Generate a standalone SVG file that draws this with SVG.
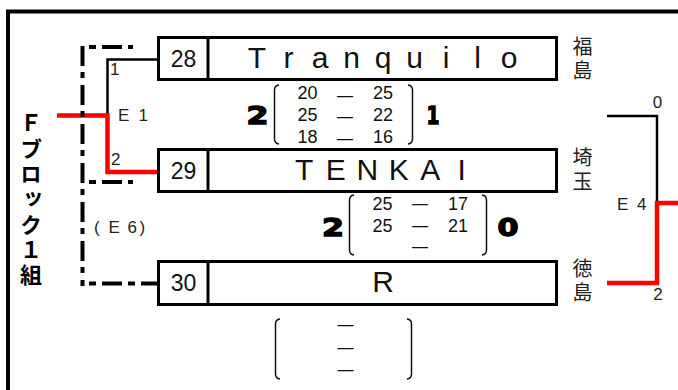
<svg xmlns="http://www.w3.org/2000/svg" width="678" height="390" viewBox="0 0 678 390">
<style>
.bg{fill:#fff}
.frame{fill:none;stroke:#000;stroke-width:4}
.box{fill:#fff;stroke:#000;stroke-width:3}
.div{stroke:#000;stroke-width:3}
.t{font-family:"Liberation Sans",Arial,sans-serif;fill:#111}
.num{font-size:23px;text-anchor:middle}
.name{font-size:30px;text-anchor:middle}
.pref{font-family:"Noto Sans CJK JP",sans-serif;font-size:20px;fill:#222;writing-mode:vertical-rl;letter-spacing:4px}
.score{font-size:18px;text-anchor:middle}
.dash{font-size:16px;text-anchor:middle}
.big{font-family:"DejaVu Sans",sans-serif;font-weight:bold;font-size:25px;stroke:#000;stroke-width:1.4;fill:#000;text-anchor:middle}
.lbl{font-size:17px;fill:#222}
.br{fill:none;stroke:#111;stroke-width:1.5}
.title{font-family:"Noto Sans CJK JP",sans-serif;font-weight:bold;font-size:22px;fill:#000;writing-mode:vertical-rl;letter-spacing:3.3px}
.blk{fill:none;stroke:#000;stroke-width:2.5}
.red{fill:none;stroke:#f00;stroke-width:4.5}
.dd{fill:none;stroke:#000;stroke-width:4}
</style>
<rect class="bg" x="0" y="0" width="678" height="390"/>
<rect class="frame" x="8" y="11.5" width="720" height="420"/>

<g id="connectors">
  <path class="blk" d="M157 59.5 H107.5 V115"/>
  <path class="red" d="M57 115.5 H107.5 V172 H157"/>
  <path class="dd" d="M82.5 46 V286" stroke-dasharray="20 6 6 7"/>
  <path class="dd" d="M89 47 H133" stroke-dasharray="7 6 20 6"/>
  <path class="dd" d="M89 182 H133" stroke-dasharray="7 6 20 6"/>
  <path class="dd" d="M89 283.5 H157" stroke-dasharray="7 6 20 6"/>
  <path class="blk" stroke-width="3" d="M607 116 H657 V203"/>
  <path class="red" d="M607 283 H657 V203 H678"/>
  <text class="t lbl" x="110" y="75">1</text>
  <text class="t lbl" x="111" y="165">2</text>
  <text class="t lbl" x="118 130 138.5" y="121">E 1</text>
  <text class="t lbl" x="94 108.5 122 127.5 139.5" y="233">(E 6)</text>
  <text class="t lbl" x="617 630 637" y="210">E 4</text>
  <text class="t lbl" x="657.5" y="108" font-size="15" text-anchor="middle">0</text>
  <text class="t lbl" x="658" y="300" text-anchor="middle">2</text>
</g>

<g id="title">
  <text class="title" x="31" y="112">Ｆブロック１組</text>
</g>

<g id="team28">
  <rect class="box" x="158.5" y="37.5" width="398" height="42"/>
  <line class="div" x1="208" y1="37.5" x2="208" y2="79.5"/>
  <text class="t num" x="183.5" y="67">28</text>
  <text class="t name" x="257 288.5 320 351.5 383 414.5 446 477.5 509" y="68">Tranquilo</text>
  <text class="pref" x="582.5" y="36.5">福島</text>
</g>

<g id="team29">
  <rect class="box" x="158.5" y="149.5" width="398" height="42"/>
  <line class="div" x1="208" y1="149.5" x2="208" y2="191.5"/>
  <text class="t num" x="183.5" y="179">29</text>
  <text class="t name" x="304.25 335.75 367.25 398.75 430.25 461.75" y="180">TENKAI</text>
  <text class="pref" x="582.5" y="147">埼玉</text>
</g>

<g id="team30">
  <rect class="box" x="158.5" y="261.5" width="398" height="43"/>
  <line class="div" x1="208" y1="261.5" x2="208" y2="304.5"/>
  <text class="t num" x="183.5" y="291">30</text>
  <text class="t name" x="383" y="292">R</text>
  <text class="pref" x="582.5" y="258">徳島</text>
</g>

<g id="match1">
  <text class="big" x="257.5" y="123.5" textLength="22" lengthAdjust="spacingAndGlyphs">2</text>
  <path class="br" d="M279 85 Q274.5 85.5 274.5 90 V139 Q274.5 143.5 279 144"/>
  <path class="br" d="M408 85 Q412.5 85.5 412.5 90 V139 Q412.5 143.5 408 144"/>
  <text class="t score" x="307.5" y="98.5">20</text>
  <text class="t score" x="383" y="98.5">25</text>
  <text class="t score" x="307.5" y="120.5">25</text>
  <text class="t score" x="383" y="120.5">22</text>
  <text class="t score" x="307.5" y="143">18</text>
  <text class="t score" x="383" y="143">16</text>
  <text class="t dash" x="345" y="100.8">—</text>
  <text class="t dash" x="345" y="121.8">—</text>
  <text class="t dash" x="345" y="143.8">—</text>
  <text class="big" x="433" y="123.5" textLength="13" lengthAdjust="spacingAndGlyphs">1</text>
</g>

<g id="match2">
  <text class="big" x="333" y="235.5" textLength="22" lengthAdjust="spacingAndGlyphs">2</text>
  <path class="br" d="M354 195 Q349.5 195.5 349.5 200 V250 Q349.5 254.5 354 255"/>
  <path class="br" d="M482 195 Q486.5 195.5 486.5 200 V250 Q486.5 254.5 482 255"/>
  <text class="t score" x="382.5" y="210">25</text>
  <text class="t score" x="458" y="210">17</text>
  <text class="t score" x="382.5" y="231.5">25</text>
  <text class="t score" x="458" y="231.5">21</text>
  <text class="t dash" x="420" y="209.3">—</text>
  <text class="t dash" x="420" y="231">—</text>
  <text class="t dash" x="420" y="252.3">—</text>
  <text class="big" x="508" y="235.5" textLength="21" lengthAdjust="spacingAndGlyphs">0</text>
</g>

<g id="match3">
  <path class="br" d="M280 319 Q275.5 319.5 275.5 324 V374 Q275.5 378.5 280 379"/>
  <path class="br" d="M407 319 Q411.5 319.5 411.5 324 V374 Q411.5 378.5 407 379"/>
  <text class="t dash" x="345.5" y="330">—</text>
  <text class="t dash" x="345.5" y="353.3">—</text>
  <text class="t dash" x="345.5" y="375.3">—</text>
</g>
</svg>
